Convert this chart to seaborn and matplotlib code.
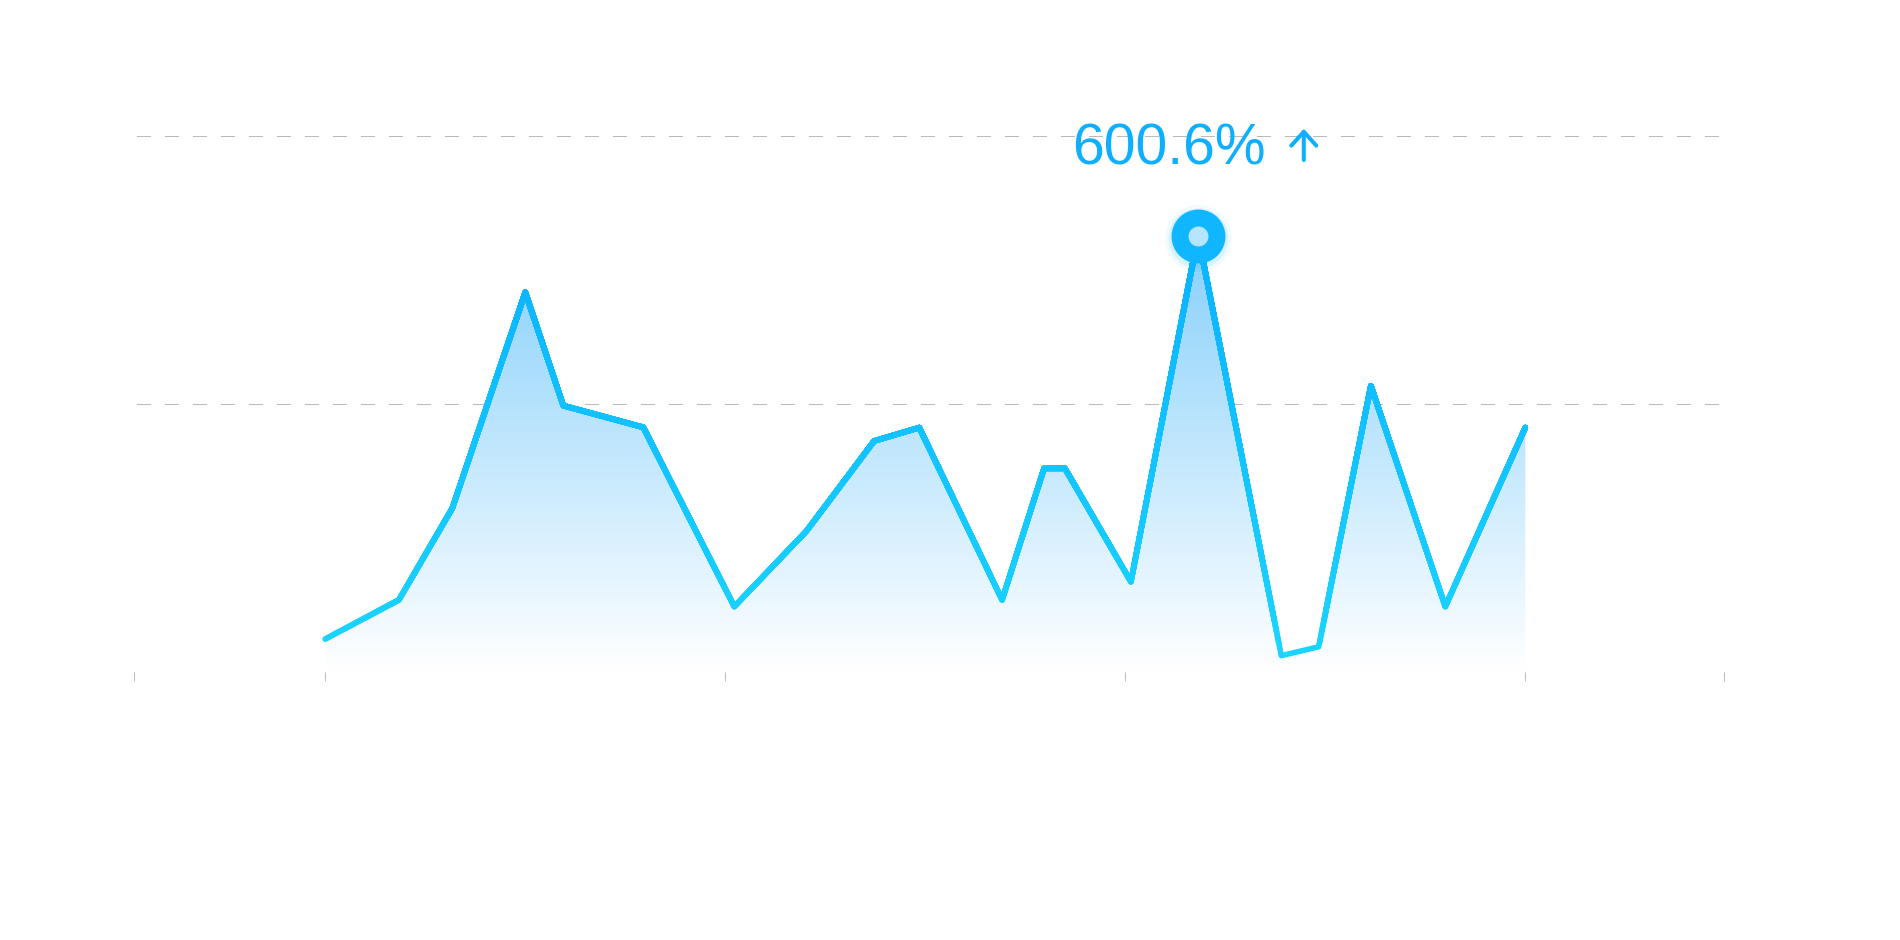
import numpy as np
import pandas as pd
import matplotlib
matplotlib.use("Agg")
import matplotlib.pyplot as plt
import matplotlib.transforms as mtransforms
from matplotlib.colors import LinearSegmentedColormap, to_rgb
from matplotlib.patches import Rectangle
import seaborn as sns

# ---------------- data ----------------
x_pos = [0, 18.4, 31.75, 50, 59.5, 79.5, 102.25, 120.35, 137.2, 148.5,
         169.2, 179.7, 184.9, 201.4, 218.2, 239, 248.35, 261.4, 280, 300]
values = [12.3, 26.9, 61.1, 141.7, 99.4, 91.3, 24.4, 52.7, 86.2, 91.2,
          26.9, 76.0, 76.0, 33.7, 162.8, 6.1, 9.4, 106.8, 24.4, 91.2]
grid_values = [100, 200]
x_ticks = [-47.75, 0, 100, 200, 300, 349.8]
x_tick_labels = ["", "", "", "", "", ""]
peak_label = "600.6%"

# ---------------- style ----------------
sns.set_theme(style="white")
plt.rcParams["font.family"] = ["Liberation Sans", "DejaVu Sans"]

line_top = "#0ab2ff"
line_bottom = "#1ad4ff"
fill_top = "#86d0fb"
text_color = "#0eafff"

df = pd.DataFrame({"x": x_pos, "y": values})

fig = plt.figure(figsize=(19, 9.4), dpi=100)
fig.patch.set_facecolor("white")
ax = fig.add_axes([0.07068, 0.28511, 0.83695, 0.65574])
ax.set_facecolor("white")

y_top = 230
x_lo, x_hi = x_ticks[0], x_ticks[-1]

# ---------------- gradient area ----------------
fb = ax.fill_between(df["x"], df["y"], 0, facecolor="none", edgecolor="none")
ymax = max(values)
cmap = LinearSegmentedColormap.from_list("area", ["#ffffff", fill_top])
grad = np.linspace(0, 1, 256).reshape(-1, 1)
im = ax.imshow(grad, extent=[min(x_pos), max(x_pos), 0, ymax], origin="lower",
               aspect="auto", cmap=cmap, zorder=1, interpolation="bilinear")
im.set_clip_path(fb.get_paths()[0], ax.transData)

# ---------------- gradient line (vertical colour gradient) ----------------
c_top = np.array(to_rgb(line_top))
c_bot = np.array(to_rgb(line_bottom))
n_bands = 36
edges = np.linspace(min(values), ymax, n_bands + 1)
for i in range(n_bands):
    t = i / (n_bands - 1)
    col = c_bot * (1 - t) + c_top * t
    sns.lineplot(data=df, x="x", y="y", color=col, linewidth=4.0, ax=ax,
                 sort=False, zorder=3)
    ln = ax.lines[-1]
    ln.set_solid_joinstyle("round")
    ln.set_solid_capstyle("round")
    lo = -1000 if i == 0 else edges[i]
    rect = Rectangle((x_lo - 100, lo), (x_hi - x_lo) + 200, 5000,
                     transform=ax.transData)
    ln.set_clip_path(rect)

# ---------------- peak marker ----------------
pk = int(np.argmax(values))
px, py = x_pos[pk], values[pk]
glow_tr = mtransforms.offset_copy(ax.transData, fig, x=0, y=-2, units="points")
for s, a in [(48**2, 0.06), (43**2, 0.11)]:
    ax.scatter([px], [py], s=s, color="#10b6ff", alpha=a, linewidths=0,
               zorder=4, transform=glow_tr)
sns.scatterplot(x=[px], y=[py], s=26.6**2, color="#b6e6fd",
                edgecolor="#10b6ff", linewidth=12.2, ax=ax, zorder=5,
                legend=False)

# ---------------- peak label ----------------
ax.annotate(peak_label, xy=(px, py), xytext=(-91, 51.3),
            textcoords="offset points", ha="left", va="baseline",
            fontsize=41, color=text_color, zorder=6,
            family=["Liberation Sans", "DejaVu Sans"])
tip = mtransforms.offset_copy(ax.transData, fig, x=76.1, y=77.0, units="points")
tail = mtransforms.offset_copy(ax.transData, fig, x=76.1, y=54.5, units="points")
ax.annotate("", xy=(px, py), xycoords=tip, xytext=(px, py), textcoords=tail,
            arrowprops=dict(arrowstyle="->,head_length=0.5,head_width=0.45",
                            color=text_color, lw=2.9, shrinkA=0, shrinkB=0,
                            mutation_scale=20, capstyle="round",
                            joinstyle="round"),
            zorder=6)

# ---------------- axes ----------------
ax.set_xlim(x_lo, x_hi)
ax.set_ylim(0, y_top)
ax.set_xticks(x_ticks)
ax.set_xticklabels(x_tick_labels)
ax.set_yticks(grid_values)
ax.set_yticklabels([])
ax.set_xlabel("")
ax.set_ylabel("")
ax.grid(False)
ax.yaxis.grid(True, color="#bababa", linewidth=0.72, linestyle=(25.6, (14, 14)))
ax.set_axisbelow(True)
for sp in ax.spines.values():
    sp.set_visible(False)
ax.tick_params(axis="x", direction="out", length=6.5, width=0.72,
               color="#bdbdbd", bottom=True, labelbottom=False, pad=2)
ax.tick_params(axis="y", left=False, labelleft=False)

fig.savefig("out.png", dpi=100, facecolor="white")
